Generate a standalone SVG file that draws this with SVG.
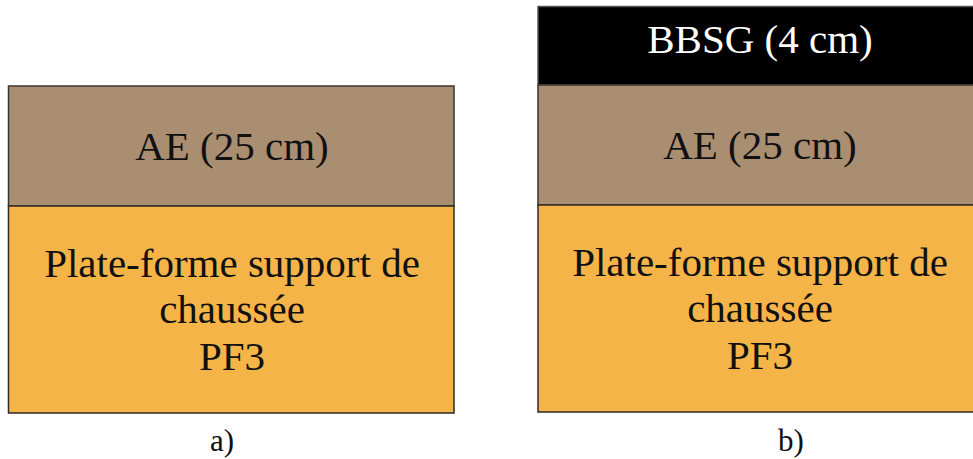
<svg xmlns="http://www.w3.org/2000/svg" width="973" height="459" viewBox="0 0 973 459">
<style>
.ae{fill:#A98E72;stroke:#3a3530;stroke-width:1.5}
.pf{fill:#F5B447;stroke:#2e2a25;stroke-width:1.5}
.bb{fill:#000;stroke:#555;stroke-width:1.5}
text{font-family:'Liberation Serif',serif}
.t{font-size:41px;text-anchor:middle;fill:#111}
.w{fill:#fff}
.lab{font-size:31px;text-anchor:middle;fill:#111}
</style>
<rect width="973" height="459" fill="#fff"/>
<g id="a">
<g id="a-ae"><rect class="ae" x="8.5" y="86" width="445.5" height="120"/><text class="t" x="232" y="160" font-family="Liberation Serif">AE (25 cm)</text></g>
<g id="a-pf"><rect class="pf" x="8.5" y="206" width="445.5" height="207"/><text class="t" x="232" y="277" font-family="Liberation Serif">Plate-forme support de</text><text class="t" x="232" y="323" font-family="Liberation Serif">chaussée</text><text class="t" x="232" y="370" font-family="Liberation Serif">PF3</text></g>
<text class="lab" x="222" y="451" font-family="Liberation Serif">a)</text>
</g>
<g id="b">
<g id="b-bbsg"><rect class="bb" x="538" y="6.5" width="446" height="78.5"/><text class="t w" x="760" y="53" font-family="Liberation Serif">BBSG (4 cm)</text></g>
<g id="b-ae"><rect class="ae" x="538" y="85" width="446" height="120"/><text class="t" x="760" y="159" font-family="Liberation Serif">AE (25 cm)</text></g>
<g id="b-pf"><rect class="pf" x="538" y="205" width="446" height="207"/><text class="t" x="760" y="276" font-family="Liberation Serif">Plate-forme support de</text><text class="t" x="760" y="322" font-family="Liberation Serif">chaussée</text><text class="t" x="760" y="369" font-family="Liberation Serif">PF3</text></g>
<text class="lab" x="791" y="451" font-family="Liberation Serif">b)</text>
</g>
<g id="connectors"/>
</svg>
